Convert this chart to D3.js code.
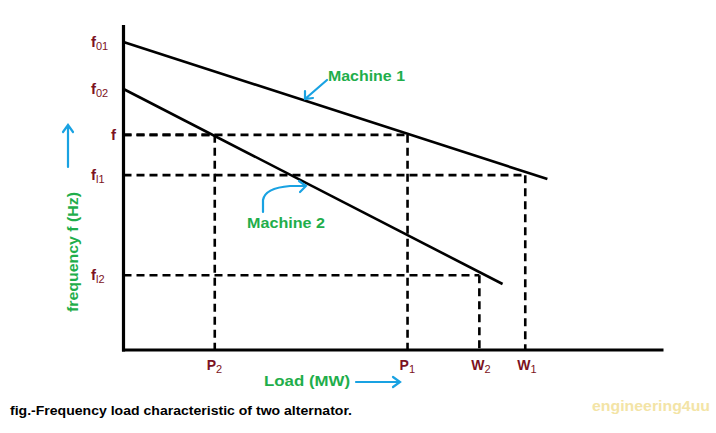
<!DOCTYPE html>
<html><head><meta charset="utf-8">
<script src="https://cdn.jsdelivr.net/npm/d3@7"></script>
<style>body{margin:0;background:#fff}svg{display:block}</style>
</head><body>
<svg id="c" width="716" height="433"></svg>
<script>
// Data (abstract units: load 0-100, frequency 0-100)
const machineNames = ["Machine 1", "Machine 2"];
const machine1 = [[0, 94.8], [78.5, 52.6]];
const machine2 = [[0, 80.3], [70.2, 20.3]];
const freqLabels = [
  {base: "f", sub: "01", v: 94.8},
  {base: "f", sub: "02", v: 80.3},
  {base: "f", sub: "", v: 66.2},
  {base: "f", sub: "l1", v: 53.8},
  {base: "f", sub: "l2", v: 23.0}
];
const loadLabels = [
  {base: "P", sub: "2", v: 16.9},
  {base: "P", sub: "1", v: 52.6},
  {base: "W", sub: "2", v: 65.9},
  {base: "W", sub: "1", v: 74.4}
];
// dashed guides: [load, freq]
const guides = [[16.9, 66.2], [52.6, 66.2], [74.4, 53.8], [65.9, 23.0]];

const svg = d3.select("#c");
const x = d3.scaleLinear().domain([0, 100]).range([123.5, 663.5]);
const y = d3.scaleLinear().domain([0, 100]).range([350, 25]);
const maroon = "#7c1222", green = "#1fae4b", blue = "#19a2e2";

// dashed guides
const g = svg.append("g").attr("stroke", "#000").attr("stroke-width", 2.6).attr("stroke-dasharray", "8,5").attr("fill", "none");
guides.forEach(([l, f]) => {
  g.append("line").attr("x1", x(0)).attr("x2", x(l)).attr("y1", y(f)).attr("y2", y(f));
  g.append("line").attr("x1", x(l)).attr("x2", x(l)).attr("y1", y(f)).attr("y2", y(0));
});

// machine lines
const line = d3.line().x(d => x(d[0])).y(d => y(d[1]));
[machine1, machine2].forEach(m => {
  svg.append("path").attr("d", line(m)).attr("stroke", "#000").attr("stroke-width", 2.6).attr("fill", "none");
});

// axes
svg.append("line").attr("x1", x(0)).attr("x2", x(0)).attr("y1", y(100)).attr("y2", y(0) + 1.5).attr("stroke", "#000").attr("stroke-width", 3.2);
svg.append("line").attr("x1", x(0) - 1.5).attr("x2", x(100)).attr("y1", y(0)).attr("y2", y(0)).attr("stroke", "#000").attr("stroke-width", 3);

// frequency labels
const font = "'Liberation Sans', Arial, sans-serif";
freqLabels.forEach(d => {
  const t = svg.append("text").attr("x", d.sub ? 91 : 111).attr("y", y(d.v) + 5)
    .attr("font-family", font).attr("font-weight", "bold").attr("font-size", 15).attr("fill", maroon);
  t.append("tspan").text(d.base);
  if (d.sub) t.append("tspan").attr("font-size", 11).attr("dy", 3).attr("font-weight", "normal").text(d.sub);
});
loadLabels.forEach(d => {
  const t = svg.append("text").attr("x", x(d.v) - 8).attr("y", y(0) + 20)
    .attr("font-family", font).attr("font-weight", "bold").attr("font-size", 14).attr("fill", maroon);
  t.append("tspan").text(d.base);
  t.append("tspan").attr("font-size", 11).attr("dy", 3).attr("font-weight", "normal").text(d.sub);
});

function txt(xp, yp, s, size, fill, len) {
  return svg.append("text").attr("x", xp).attr("y", yp).attr("font-family", font).attr("font-weight", "bold")
    .attr("font-size", size).attr("fill", fill).attr("textLength", len).attr("lengthAdjust", "spacingAndGlyphs").text(s);
}

// axis titles
txt(264, 386, "Load (MW)", 14, green, 86);
svg.append("text").attr("transform", "translate(78,252) rotate(-90)").attr("text-anchor", "middle")
  .attr("font-family", font).attr("font-weight", "bold").attr("font-size", 14).attr("fill", green)
  .attr("textLength", 120).attr("lengthAdjust", "spacingAndGlyphs").text("frequency f (Hz)");

// blue arrows
const arr = svg.append("g").attr("stroke", blue).attr("stroke-width", 2.2).attr("fill", "none").attr("stroke-linecap", "round");
arr.append("path").attr("d", "M356,382 L400,382 M393,377 L400,382 L393,387");
arr.append("path").attr("d", "M68,167 L68,125 M63,132 L68,125 L73,132");
arr.append("path").attr("d", "M327,80 L305,99 M305,91 L305,99 L313,98");
arr.append("path").attr("d", "M263,212 L263,200 Q265,188 290,186 L306,186 M299,181 L306,186 L300,192");

// machine labels
txt(328, 81, machineNames[0], 14, green, 77);
txt(247, 228, machineNames[1], 14, green, 78);

// caption & watermark
txt(10, 415, "fig.-Frequency load characteristic of two alternator.", 12.5, "#000", 342);
txt(592, 411, "engineering4uu", 14, "#f3e4a6", 118);
</script>
</body></html>
